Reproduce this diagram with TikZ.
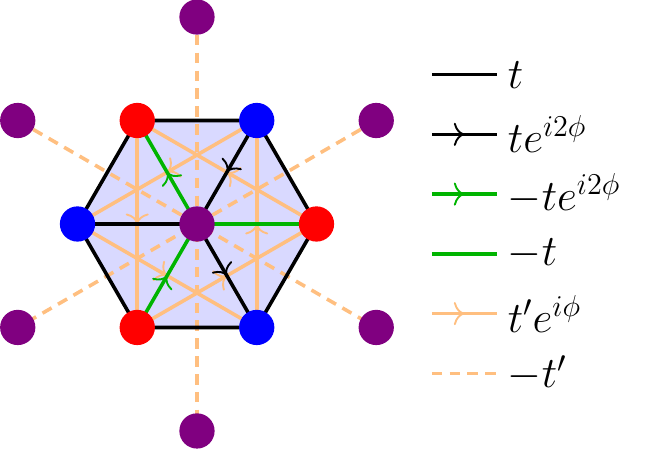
\documentclass[tikz,border=0pt]{standalone}
\usetikzlibrary{arrows.meta,decorations.markings}
\begin{document}
\begin{tikzpicture}[
  hop/.style={line width=1.7pt},
  nn/.style={hop, draw=black},
  nng/.style={hop, draw=hopG},
  nnn/.style={hop, draw=hopO},
  far/.style={hop, draw=hopO, dash pattern=on 5pt off 3.5pt},
  mid/.style={postaction={decorate, decoration={markings,
    mark=at position 0.5 with {\arrow{Computer Modern Rightarrow[length=5pt, width=11pt, line width=0.9pt]}}}}},
  nnarr/.style={nn, mid},
  nngarr/.style={nng, mid},
  nnnarr/.style={nnn, mid},
  site/.style={circle, minimum size=0.59cm, inner sep=0pt},
  key/.style={anchor=west, font=\fontsize{21.6}{26}\selectfont}
]
\definecolor{hopG}{RGB}{0,180,0}
\definecolor{hopO}{RGB}{255,191,128}
\definecolor{cellF}{RGB}{217,217,255}
\definecolor{siteR}{RGB}{255,0,0}
\definecolor{siteB}{RGB}{0,0,255}
\definecolor{siteP}{RGB}{128,0,128}

\useasboundingbox (-3.297,-3.766) rectangle (7.833,3.749);

% site positions
\coordinate (c) at (0,0);
\foreach \i in {0,...,5} {
  \coordinate (h\i) at (60*\i:2);
  \coordinate (o\i) at (30+60*\i:3.464);
}

% unit cell
\fill[cellF] (h0) -- (h1) -- (h2) -- (h3) -- (h4) -- (h5) -- cycle;

% third neighbours
\draw[far] (o0) -- (o3);
\draw[far] (o1) -- (o4);
\draw[far] (o2) -- (o5);

% second neighbours
\draw[nnnarr] (h2) -- (h4);
\draw[nnnarr] (h4) -- (h0);
\draw[nnnarr] (h0) -- (h2);
\draw[nnnarr] (h5) -- (h1);
\draw[nnnarr] (h1) -- (h3);
\draw[nnnarr] (h3) -- (h5);

% first neighbours
\draw[nn] (h0) -- (h1) -- (h2) -- (h3) -- (h4) -- (h5) -- cycle;
\draw[nn] (c) -- (h3);
\draw[nnarr] (h1) -- (c);
\draw[nnarr] (c) -- (h5);
\draw[nng] (c) -- (h0);
\draw[nngarr] (c) -- (h2);
\draw[nngarr] (h4) -- (c);

% sites
\node[site, fill=siteP] (sc) at (c) {};
\foreach \i/\col in {0/siteR,1/siteB,2/siteR,3/siteB,4/siteR,5/siteB} {
  \node[site, fill=\col] (s\i) at (h\i) {};
  \node[site, fill=siteP] (so\i) at (o\i) {};
}

% legend
\foreach \n/\y/\sty/\txt in {1/2.5/nn/{$t$},2/1.5/nnarr/{$te^{i2\phi}$},
    3/0.5/nngarr/{$-te^{i2\phi}$},4/-0.5/nng/{$-t$},
    5/-1.5/nnnarr/{$t'e^{i\phi}$},6/-2.5/far/{$-t'$}} {
  \coordinate (ka\n) at (3.93,\y);
  \coordinate (kb\n) at (5.02,\y);
  \draw[\sty] (ka\n) -- (kb\n);
  \node[key] (kt\n) at (5.08,\y) {\txt};
}
\end{tikzpicture}
\end{document}
